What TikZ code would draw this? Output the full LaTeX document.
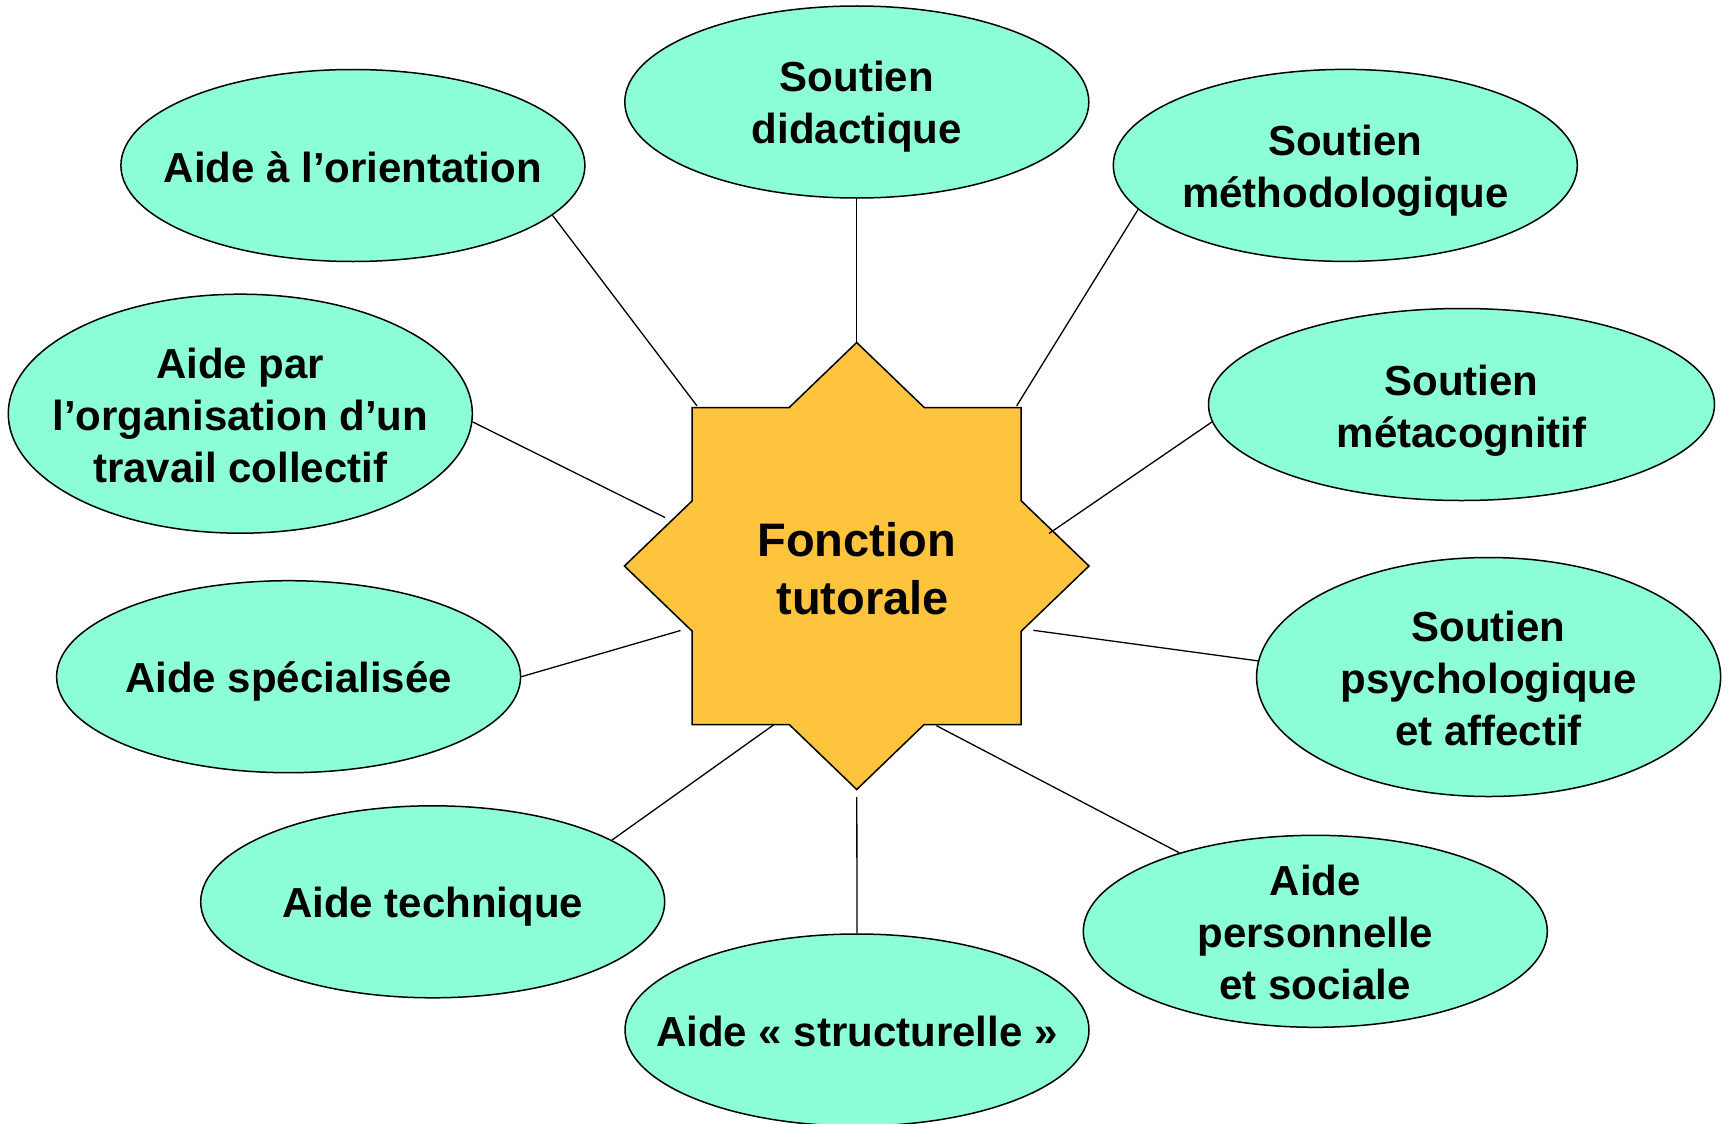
\documentclass[tikz,border=0pt]{standalone}
\usepackage{fontspec}
\setmainfont{Liberation Sans}
\usetikzlibrary{shapes.geometric}
\definecolor{mint}{RGB}{140,255,215}
\definecolor{gold}{RGB}{255,196,61}
\begin{document}
\begin{tikzpicture}[x=1pt,y=-1pt,
  bub/.style={ellipse, draw=black, line width=1.5pt, fill=mint, minimum width=464pt, minimum height=192pt, inner sep=0pt},
  bubtall/.style={bub, minimum height=239pt},
  lbl/.style={font=\fontsize{42}{52}\selectfont\bfseries, align=center, inner sep=0pt},
  ctext/.style={font=\fontsize{47}{58}\selectfont\bfseries, align=center, inner sep=0pt},
  starshape/.style={draw=black, line width=1.5pt, fill=gold, line join=miter},
  link/.style={draw=black, line width=1.3pt}]
\useasboundingbox (0,0) rectangle (1729,1124);
\fill[white] (0,0) rectangle (1729,1124);

% star
\draw[starshape] (856.7,342.5) -- (924.2,407.5) -- (1021.2,407.5) -- (1021.2,500.8)
  -- (1089,566) -- (1021.2,631.2) -- (1021.2,724.5) -- (924.2,724.5)
  -- (856.7,789.5) -- (789.2,724.5) -- (692.2,724.5) -- (692.2,631.2)
  -- (624.4,566) -- (692.2,500.8) -- (692.2,407.5) -- (789.2,407.5) -- cycle;
\node[ctext, yshift=-2.5pt] (centre) at (856.7,566) {Fonction\\\hspace*{12pt}tutorale};

% bubbles
\node[bub, label={[lbl,yshift=-2pt]center:Aide à l’orientation}] (orient) at (352.9,165.5) {};
\node[bub, label={[lbl,yshift=-5pt]center:{Soutien\\didactique}}] (didac) at (856.8,102) {};
\node[bub, label={[lbl,yshift=-5.5pt]center:{Soutien\\méthodologique}}] (metho) at (1345.3,165.4) {};
\node[bub, minimum width=506pt, label={[lbl,yshift=-6pt]center:{Soutien\\métacognitif}}] (metacog) at (1461.5,404.5) {};
\node[bubtall, label={[lbl,yshift=-2pt]center:{Aide par\\l’organisation d’un\\travail collectif}}] (organ) at (240.3,413.7) {};
\node[bub, label={[lbl,yshift=-4.5pt]center:Aide spécialisée}] (special) at (288.6,676.7) {};
\node[bub, label={[lbl,yshift=-5pt]center:Aide technique}] (techn) at (432.7,901.8) {};
\node[bub, label={[lbl,yshift=-1.5pt]center:Aide «~structurelle~»}] (struct) at (857,1030) {};
\node[bub, label={[lbl,yshift=-1.5pt]center:{Aide\\personnelle\\et sociale}}] (perso) at (1315.3,931.3) {};
\node[bubtall, label={[lbl,yshift=-1.5pt]center:{Soutien\\psychologique\\et affectif}}] (psycho) at (1488.6,677) {};

% star-side ends
\coordinate (s1) at (696.9,405.8);
\coordinate (s2) at (856.8,343);
\coordinate (s3) at (1016.7,405.8);
\coordinate (s4) at (1049,533.5);
\coordinate (s5) at (665,517.5);
\coordinate (s6) at (680.5,630.5);
\coordinate (s7) at (773.7,724.8);
\coordinate (s8) at (856.8,797.2);
\coordinate (s9) at (936.5,725.7);
\coordinate (s10) at (1033.3,630.3);

% connectors
\draw[link] (orient.-14.1) -- (s1);
\draw[link] (didac.-90) -- (s2);
\draw[link] (metho.-168.5) -- (s3);
\draw[link] (metacog.184.5) -- (s4);
\draw[link] (organ.-2.1) -- (s5);
\draw[link] (special.0) -- (s6);
\draw[link] (techn.19) -- (s7);
\draw[link] (struct.90) -- (s8);
\draw[link] (perso.150.6) -- (s9);
\draw[link] (psycho.176.2) -- (s10);
\end{tikzpicture}
\end{document}
